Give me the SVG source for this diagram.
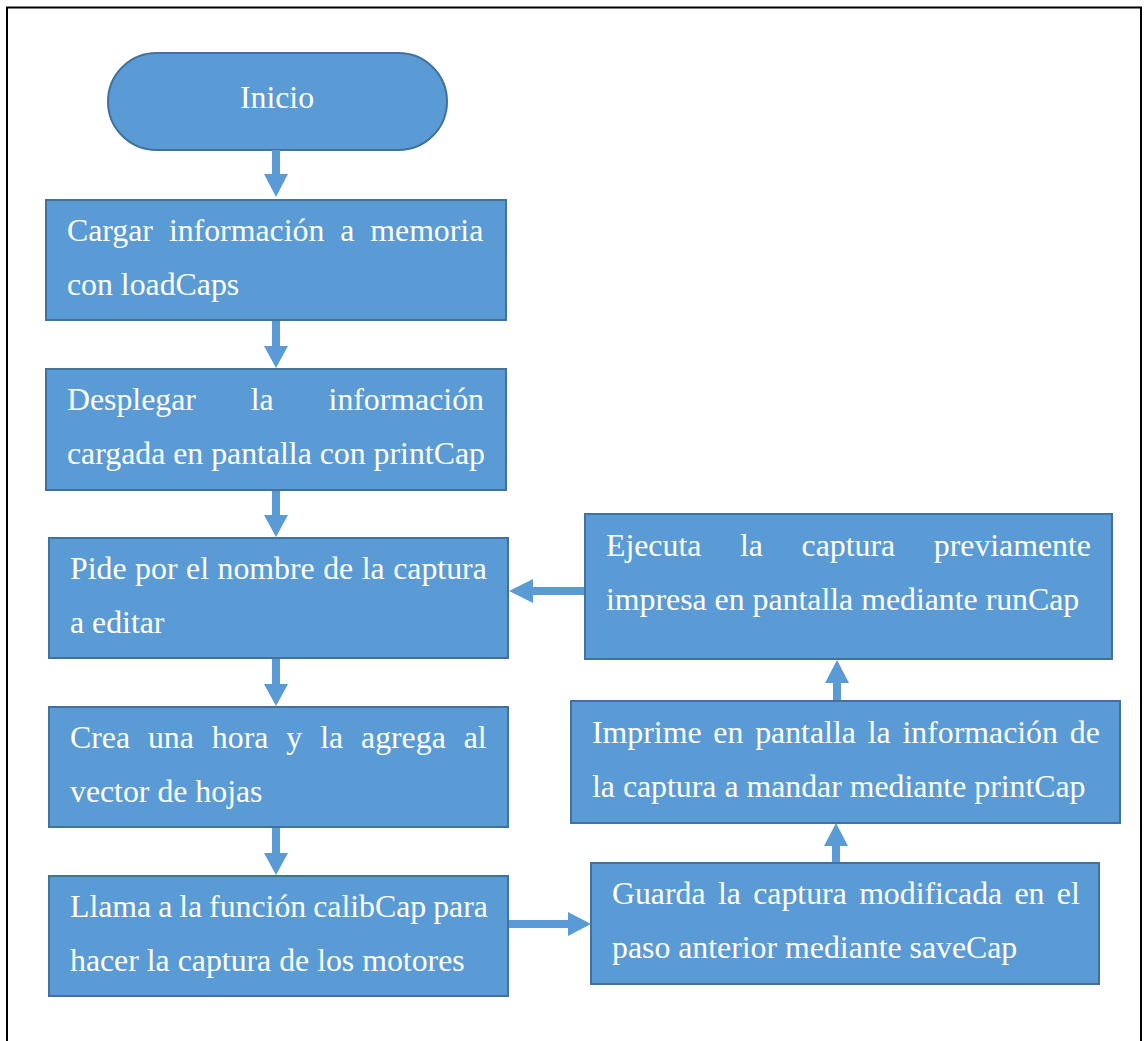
<svg xmlns="http://www.w3.org/2000/svg" width="1144" height="1041" viewBox="0 0 1144 1041">
  <style>
    .box { fill: #5B9BD5; stroke: #41719C; stroke-width: 2; }
    .lbl { font-family: "Liberation Serif", "Times New Roman", serif; font-size: 31.8px; fill: #FFFFFF; }
    .arrow { fill: #5B9BD5; stroke: none; }
  </style>

  <rect x="0" y="0" width="1144" height="1041" fill="#FFFFFF"/>
  <!-- page frame -->
  <rect x="7" y="7.5" width="1134" height="1060" fill="none" stroke="#000000" stroke-width="2"/>

  <g id="inicio">
    <rect class="box" x="108" y="53" width="339" height="97" rx="48.5" ry="48.5"/>
    <text class="lbl" x="277" y="108" text-anchor="middle">Inicio</text>
  </g>

  <g id="cargar">
    <rect class="box" x="46" y="200" width="460" height="120"/>
    <text class="lbl" x="67" y="241" word-spacing="8">Cargar información a memoria</text>
    <text class="lbl" x="67" y="295">con loadCaps</text>
  </g>

  <g id="desplegar">
    <rect class="box" x="46" y="369" width="460" height="121"/>
    <text class="lbl" x="67" y="410" word-spacing="46.9">Desplegar la información</text>
    <text class="lbl" x="67" y="464">cargada en pantalla con printCap</text>
  </g>

  <g id="pide">
    <rect class="box" x="49" y="538" width="459" height="120"/>
    <text class="lbl" x="70" y="579" word-spacing="0.6">Pide por el nombre de la captura</text>
    <text class="lbl" x="70" y="633">a editar</text>
  </g>

  <g id="crea">
    <rect class="box" x="49" y="707" width="459" height="120"/>
    <text class="lbl" x="70" y="748" word-spacing="10">Crea una hora y la agrega al</text>
    <text class="lbl" x="70" y="802">vector de hojas</text>
  </g>

  <g id="llama">
    <rect class="box" x="49" y="876" width="459" height="120"/>
    <text class="lbl" x="70" y="917" word-spacing="-1">Llama a la función calibCap para</text>
    <text class="lbl" x="70" y="971">hacer la captura de los motores</text>
  </g>

  <g id="guarda">
    <rect class="box" x="591" y="863" width="508" height="121"/>
    <text class="lbl" x="612" y="904" word-spacing="4.4">Guarda la captura modificada en el</text>
    <text class="lbl" x="612" y="958">paso anterior mediante saveCap</text>
  </g>

  <g id="imprime">
    <rect class="box" x="571" y="701" width="549" height="122"/>
    <text class="lbl" x="592" y="743" word-spacing="3.9">Imprime en pantalla la información de</text>
    <text class="lbl" x="592" y="797">la captura a mandar mediante printCap</text>
  </g>

  <g id="ejecuta">
    <rect class="box" x="585" y="514" width="527" height="145"/>
    <text class="lbl" x="606" y="556" word-spacing="30.7">Ejecuta la captura previamente</text>
    <text class="lbl" x="606" y="610">impresa en pantalla mediante runCap</text>
  </g>

  <!-- block arrows between steps -->
  <g id="connectors">
    <polygon class="arrow" points="272,150 280,150 280,174 288,174 276,197 264,174 272,174"/>
    <polygon class="arrow" points="272,321 280,321 280,346 288,346 276,368 264,346 272,346"/>
    <polygon class="arrow" points="272,491 280,491 280,515 288,515 276,537 264,515 272,515"/>
    <polygon class="arrow" points="272,659 280,659 280,684 288,684 276,706 264,684 272,684"/>
    <polygon class="arrow" points="272,828 280,828 280,853 288,853 276,875 264,853 272,853"/>
    <polygon class="arrow" points="509,920 568,920 568,912 591,924 568,936 568,928 509,928"/>
    <polygon class="arrow" points="832,862 840,862 840,846 848,846 836,823 824,846 832,846"/>
    <polygon class="arrow" points="833,700 841,700 841,683 849,683 837,660 825,683 833,683"/>
    <polygon class="arrow" points="584,587 533,587 533,579 509,591 533,603 533,595 584,595"/>
  </g>
</svg>
